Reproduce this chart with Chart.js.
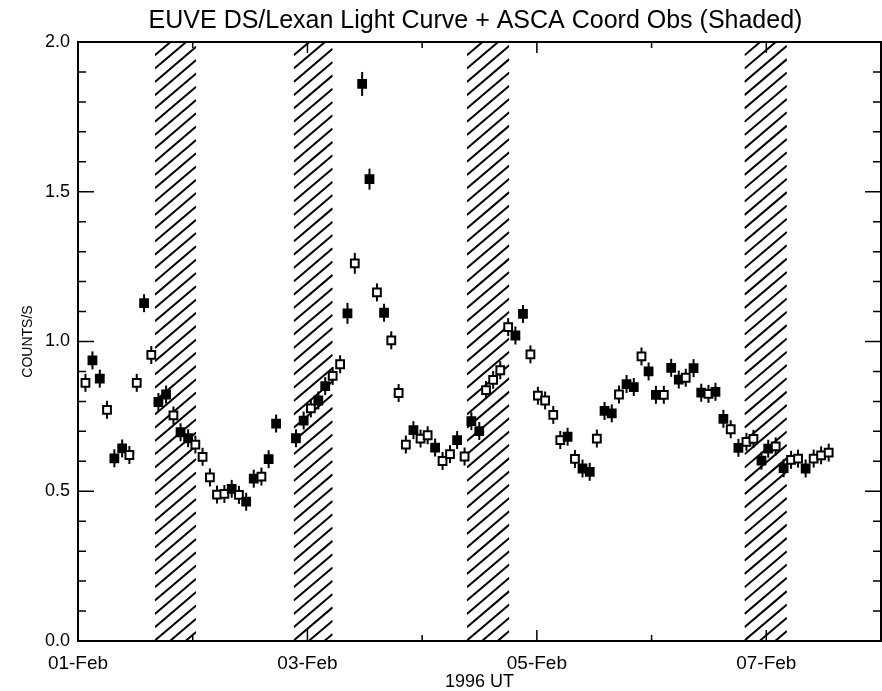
<!DOCTYPE html>
<html>
<head>
<meta charset="utf-8">
<script src="https://cdn.jsdelivr.net/npm/chart.js@4.4.1/dist/chart.umd.min.js"></script>
<style>
body { margin: 0; background: #fff; }
canvas { display: block; }
</style>
</head>
<body>
<canvas id="chart" width="882" height="691"></canvas>
<script>
// temps en jours depuis 01-Feb-1996 00:00 UT
const times = [
    0.065, 0.126, 0.19, 0.253, 0.317, 0.385, 0.448, 0.512, 0.576, 0.639,
    0.701, 0.768, 0.832, 0.894, 0.96, 1.023, 1.086, 1.15, 1.212, 1.276,
    1.34, 1.403, 1.466, 1.532, 1.599, 1.662, 1.727, 1.90, 1.967, 2.03,
    2.095, 2.155, 2.22, 2.285, 2.349, 2.413, 2.477, 2.541, 2.606, 2.668,
    2.731, 2.795, 2.858, 2.924, 2.986, 3.048, 3.113, 3.178, 3.243, 3.305,
    3.37, 3.429, 3.498, 3.557, 3.619, 3.681, 3.75, 3.813, 3.879, 3.944,
    4.009, 4.072, 4.143, 4.204, 4.268, 4.332, 4.398, 4.461, 4.523, 4.59,
    4.653, 4.716, 4.782, 4.845, 4.912, 4.974, 5.038, 5.107, 5.171, 5.237,
    5.298, 5.366, 5.433, 5.496, 5.557, 5.626, 5.69, 5.757, 5.827, 5.888,
    5.958, 6.017, 6.082, 6.151, 6.216, 6.277, 6.343, 6.413, 6.478, 6.544
];
// taux DS/Lexan (counts/s)
const rates = [
    0.862, 0.937, 0.876, 0.772, 0.610, 0.643, 0.621, 0.862, 1.128, 0.955,
    0.798, 0.823, 0.753, 0.697, 0.677, 0.656, 0.615, 0.546, 0.489, 0.491,
    0.508, 0.488, 0.465, 0.542, 0.549, 0.607, 0.726, 0.677, 0.736, 0.777,
    0.803, 0.851, 0.885, 0.924, 1.094, 1.261, 1.860, 1.542, 1.164, 1.096,
    1.004, 0.828, 0.656, 0.704, 0.676, 0.687, 0.646, 0.601, 0.624, 0.671,
    0.616, 0.734, 0.701, 0.838, 0.872, 0.904, 1.048, 1.020, 1.092, 0.957,
    0.819, 0.803, 0.755, 0.671, 0.682, 0.608, 0.576, 0.565, 0.676, 0.768,
    0.760, 0.823, 0.858, 0.848, 0.950, 0.900, 0.822, 0.822, 0.912, 0.873,
    0.879, 0.911, 0.829, 0.825, 0.832, 0.742, 0.707, 0.645, 0.665, 0.675,
    0.602, 0.642, 0.650, 0.577, 0.605, 0.609, 0.576, 0.609, 0.620, 0.629
];
const errs = [
    0.03, 0.03, 0.03, 0.03, 0.03, 0.03, 0.03, 0.03, 0.03, 0.03,
    0.03, 0.03, 0.03, 0.03, 0.03, 0.03, 0.03, 0.03, 0.03, 0.03,
    0.03, 0.03, 0.03, 0.03, 0.03, 0.03, 0.03, 0.03, 0.03, 0.03,
    0.03, 0.03, 0.03, 0.03, 0.035, 0.035, 0.04, 0.035, 0.03, 0.03,
    0.03, 0.03, 0.03, 0.03, 0.03, 0.03, 0.03, 0.03, 0.03, 0.03,
    0.03, 0.03, 0.03, 0.03, 0.03, 0.03, 0.03, 0.03, 0.03, 0.03,
    0.03, 0.03, 0.03, 0.03, 0.03, 0.03, 0.03, 0.03, 0.03, 0.03,
    0.03, 0.03, 0.03, 0.03, 0.03, 0.03, 0.03, 0.03, 0.03, 0.03,
    0.03, 0.03, 0.03, 0.03, 0.03, 0.03, 0.03, 0.03, 0.03, 0.03,
    0.03, 0.03, 0.03, 0.03, 0.03, 0.03, 0.03, 0.03, 0.03, 0.03
];
// 1 = carre plein, 0 = carre vide
const filled = [
    0,1,1,0,1,1,0,0,1,0,
    1,1,0,1,1,0,0,0,0,0,
    1,0,1,1,0,1,1,1,1,0,
    1,1,0,0,1,0,1,1,0,1,
    0,0,0,1,0,0,1,0,0,1,
    0,1,1,0,0,0,0,1,1,0,
    0,0,0,0,1,0,1,1,0,1,
    1,0,1,1,0,1,1,0,1,1,
    0,1,1,0,1,1,0,1,0,0,
    1,1,0,1,0,0,1,0,0,0
];
// observations ASCA coordonnees (zones hachurees), jours depuis 01-Feb
const ascaStart = [0.67, 1.88, 3.39, 5.81];
const ascaEnd   = [1.03, 2.22, 3.76, 6.18];

const xTickLabels = ['01-Feb', '03-Feb', '05-Feb', '07-Feb'];
const yTickLabels = ['0.0', '0.5', '1.0', '1.5', '2.0'];
const titre = 'EUVE DS/Lexan Light Curve + ASCA Coord Obs (Shaded)';

const FONT = '"Liberation Sans", Arial, sans-serif';

// hachures ASCA, barres d'erreur, cadre et titre
const hatchPlugin = {
    id: 'hatch',
    beforeDatasetsDraw(chart) {
        const {ctx, chartArea: {top, bottom}, scales: {x, y}} = chart;
        ctx.save();
        ctx.strokeStyle = '#000';
        ctx.lineWidth = 2;
        for (let i = 0; i < ascaStart.length; i++) {
            const x0 = x.getPixelForValue(ascaStart[i]);
            const x1 = x.getPixelForValue(ascaEnd[i]);
            const rise = (x1 - x0) * 0.85;
            ctx.save();
            ctx.beginPath();
            ctx.rect(x0, top, x1 - x0, bottom - top);
            ctx.clip();
            for (let yy = top; yy < bottom + rise + 14; yy += 13.3) {
                ctx.beginPath();
                ctx.moveTo(x0, yy);
                ctx.lineTo(x1, yy - rise);
                ctx.stroke();
            }
            ctx.restore();
        }
        // barres d'erreur
        ctx.lineWidth = 2;
        times.forEach((t, i) => {
            const px = x.getPixelForValue(t);
            ctx.beginPath();
            ctx.moveTo(px, y.getPixelForValue(rates[i] - errs[i]));
            ctx.lineTo(px, y.getPixelForValue(rates[i] + errs[i]));
            ctx.stroke();
        });
        ctx.restore();
    },
    afterDraw(chart) {
        const {ctx, chartArea: {left, right, top, bottom}, scales: {x, y}} = chart;
        ctx.save();
        ctx.strokeStyle = '#000';
        ctx.lineWidth = 2;
        ctx.strokeRect(left, top, right - left, bottom - top);
        ctx.lineWidth = 1.5;
        // ticks interieurs axe Y (gauche et droite)
        for (let k = 1; k < 20; k++) {
            const py = y.getPixelForValue(k / 10);
            const len = (k % 5 === 0) ? 16 : 8;
            ctx.beginPath();
            ctx.moveTo(left, py); ctx.lineTo(left + len, py);
            ctx.moveTo(right, py); ctx.lineTo(right - len, py);
            ctx.stroke();
        }
        // ticks interieurs axe X (bas et haut)
        for (let d = 1; d < 7; d++) {
            const px = x.getPixelForValue(d);
            const len = (d % 2 === 0) ? 11 : 6;
            ctx.beginPath();
            ctx.moveTo(px, bottom); ctx.lineTo(px, bottom - len);
            ctx.moveTo(px, top); ctx.lineTo(px, top + len);
            ctx.stroke();
        }
        // titre
        ctx.fillStyle = '#000';
        ctx.font = '25px ' + FONT;
        ctx.textAlign = 'center';
        ctx.textBaseline = 'middle';
        ctx.fillText(titre, (left + right) / 2 - 4, 21);
        ctx.restore();
    }
};

const ctx = document.getElementById('chart');

new Chart(ctx, {
    type: 'scatter',
    data: {
        datasets: [{
            data: times.map((t, i) => ({x: t, y: rates[i]})),
            pointStyle: 'rect',
            pointRadius: 5.5,
            pointHoverRadius: 5.5,
            borderWidth: 2,
            pointBorderColor: '#000',
            pointBackgroundColor: filled.map(f => f ? '#000' : '#fff'),
            showLine: false
        }]
    },
    options: {
        responsive: false,
        animation: false,
        devicePixelRatio: 1,
        layout: {autoPadding: false, padding: {left: 10, right: 1, top: 42, bottom: 0}},
        plugins: {
            legend: {display: false},
            tooltip: {enabled: false}
        },
        scales: {
            x: {
                type: 'linear',
                min: 0,
                max: 7,
                grid: {display: false, drawTicks: false},
                border: {display: false},
                afterFit: s => { s.height = 50; s.paddingLeft = 0; s.paddingRight = 0; },
                ticks: {
                    stepSize: 2,
                    includeBounds: false,
                    padding: 11,
                    color: '#000',
                    font: {family: FONT, size: 19},
                    maxRotation: 0,
                    callback: v => xTickLabels[v / 2]
                },
                title: {
                    display: true,
                    text: '1996 UT',
                    color: '#000',
                    font: {family: FONT, size: 18},
                    padding: {top: 0, bottom: -2}
                }
            },
            y: {
                min: 0,
                max: 2,
                grid: {display: false, drawTicks: false},
                border: {display: false},
                afterFit: s => { s.width = 68; s.paddingTop = 0; s.paddingBottom = 0; },
                ticks: {
                    stepSize: 0.5,
                    padding: 8,
                    color: '#000',
                    font: {family: FONT, size: 18},
                    callback: v => yTickLabels[Math.round(v * 2)]
                },
                title: {
                    display: true,
                    text: 'COUNTS/S',
                    color: '#000',
                    font: {family: FONT, size: 14},
                    padding: {top: 10}
                }
            }
        }
    },
    plugins: [hatchPlugin]
});
</script>
</body>
</html>
